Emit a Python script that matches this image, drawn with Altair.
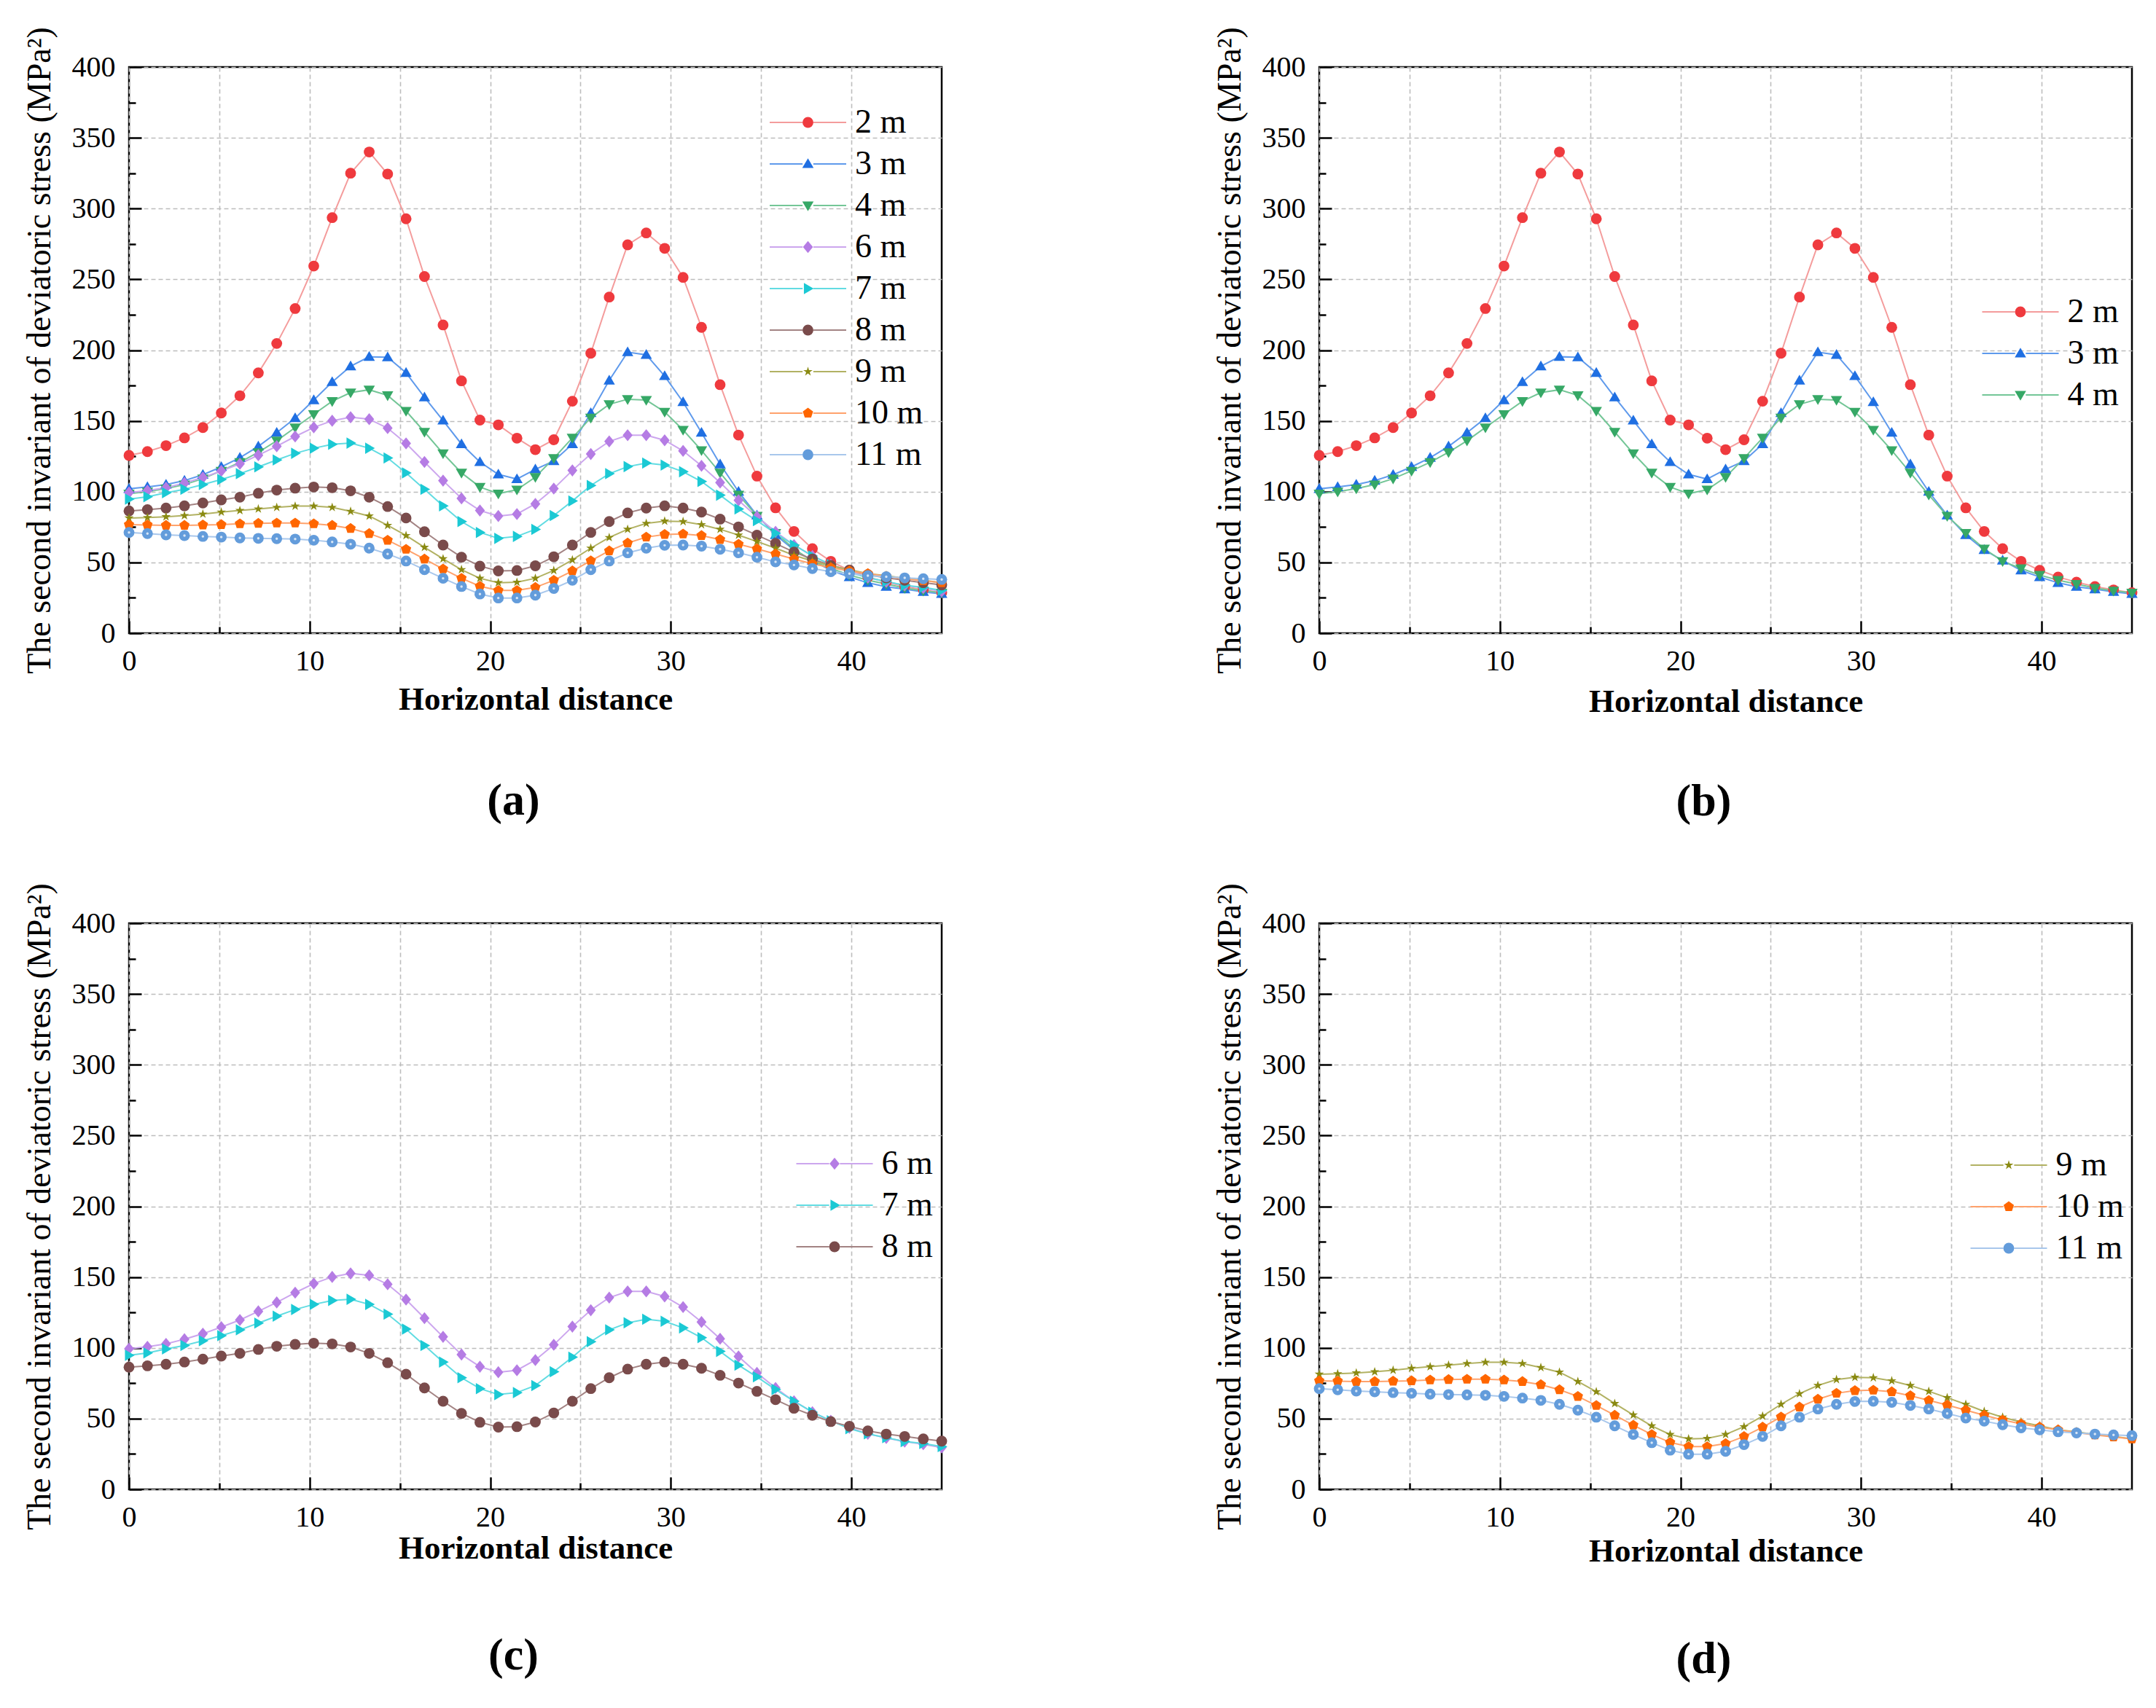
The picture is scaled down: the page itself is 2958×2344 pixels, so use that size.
import altair as alt
import pandas as pd

FONT = "Liberation Serif"

# x positions of the sampled points (45 samples over 0..45)
X = [0.0, 1.02, 2.05, 3.07, 4.09, 5.11, 6.14, 7.16, 8.18, 9.2, 10.23, 11.25, 12.27, 13.3, 14.32,
     15.34, 16.36, 17.39, 18.41, 19.43, 20.45, 21.48, 22.5, 23.52, 24.55, 25.57, 26.59, 27.61,
     28.64, 29.66, 30.68, 31.7, 32.73, 33.75, 34.77, 35.8, 36.82, 37.84, 38.86, 39.89, 40.91,
     41.93, 42.95, 43.98, 45.0]

S2 = [125.6, 128.3, 132.5, 138.0, 145.3, 155.6, 167.8, 183.9, 204.7, 229.4, 259.4, 293.6, 325.0,
      340.0, 324.4, 292.8, 252.0, 217.8, 178.3, 150.6, 147.2, 137.8, 129.7, 136.7, 163.9, 197.8,
      237.5, 274.4, 282.8, 271.9, 251.4, 216.1, 175.6, 140.0, 111.0, 88.6, 71.9, 59.7, 50.8, 44.4,
      39.7, 36.1, 33.0, 30.6, 28.6]
S3 = [102.0, 103.3, 105.0, 107.8, 112.0, 117.5, 124.0, 132.0, 141.7, 152.0, 164.7, 177.5, 188.6,
      195.3, 195.0, 184.0, 166.7, 150.3, 133.6, 121.0, 112.2, 108.9, 115.8, 121.7, 133.6, 155.6,
      178.6, 198.6, 196.7, 181.7, 163.3, 141.7, 119.4, 100.0, 83.3, 69.4, 58.9, 51.4, 44.4, 39.7,
      35.6, 32.8, 31.1, 29.2, 27.8]
S4 = [98.6, 100.0, 102.2, 105.0, 109.2, 114.7, 120.8, 127.8, 136.0, 145.3, 154.7, 163.9, 170.0,
      172.0, 168.0, 157.0, 142.2, 127.0, 113.3, 103.3, 98.6, 101.4, 110.3, 123.6, 138.0, 152.2,
      161.7, 165.3, 164.7, 156.4, 143.6, 129.2, 113.3, 97.8, 82.8, 70.8, 59.7, 50.8, 45.8, 41.1,
      37.5, 34.7, 31.9, 30.0, 28.6]
S6 = [99.4, 100.8, 102.8, 106.1, 110.0, 114.7, 119.7, 125.8, 132.1, 139.0, 145.4, 150.1, 152.6,
      151.2, 144.9, 134.1, 121.0, 107.8, 95.3, 86.7, 82.8, 84.2, 91.4, 102.2, 115.0, 126.6, 135.5,
      139.9, 139.9, 136.3, 128.8, 118.3, 106.4, 93.9, 82.3, 71.7, 62.3, 54.6, 48.5, 43.5, 39.3,
      36.3, 33.8, 31.9, 29.6]
S7 = [94.7, 96.4, 99.2, 101.7, 105.0, 108.6, 112.7, 117.5, 122.4, 127.1, 130.7, 133.5, 134.3,
      130.7, 123.8, 113.3, 101.7, 90.0, 78.9, 71.2, 67.0, 68.4, 73.4, 83.1, 93.4, 104.4, 112.7,
      117.7, 120.2, 118.8, 114.1, 107.2, 97.5, 87.8, 79.5, 70.6, 62.3, 54.6, 48.5, 42.9, 39.3,
      36.6, 33.8, 32.4, 30.2]
S8 = [86.4, 87.3, 88.4, 90.0, 92.0, 94.2, 96.1, 98.9, 101.1, 102.5, 103.3, 102.8, 100.6, 96.1,
      89.5, 81.4, 71.7, 62.3, 53.7, 47.4, 44.0, 44.3, 47.6, 54.0, 62.3, 71.2, 78.9, 85.0, 88.4,
      90.0, 88.4, 85.6, 80.6, 75.1, 69.3, 63.4, 57.3, 52.4, 47.9, 44.6, 41.3, 39.1, 37.4, 35.7, 34.1]
S9 = [81.4, 81.7, 82.3, 83.1, 84.2, 85.6, 86.7, 87.8, 88.9, 89.8, 89.8, 88.9, 86.1, 82.8, 76.2,
      69.0, 60.7, 52.6, 44.9, 38.8, 35.7, 36.0, 38.8, 44.3, 51.8, 60.1, 67.6, 73.4, 77.6, 79.2,
      78.9, 76.7, 73.4, 69.3, 64.8, 60.1, 55.1, 51.0, 47.6, 44.9, 42.1, 40.7, 38.8, 37.4, 35.7]
S10 = [76.7, 76.5, 76.2, 76.2, 76.5, 76.7, 77.3, 77.6, 77.8, 77.8, 77.3, 76.2, 74.0, 70.4, 65.7,
       59.3, 52.4, 45.4, 38.8, 33.2, 30.2, 30.2, 32.4, 37.4, 44.0, 51.2, 58.2, 63.7, 67.9, 69.8,
       70.1, 69.0, 66.2, 62.9, 59.6, 56.0, 52.4, 49.0, 46.3, 44.0, 42.1, 40.2, 38.5, 37.1, 35.7]
S11 = [71.2, 70.4, 69.5, 69.0, 68.4, 67.9, 67.3, 67.0, 66.8, 66.5, 65.7, 64.5, 62.9, 60.1, 56.0,
       51.0, 44.9, 38.8, 33.0, 27.7, 24.9, 24.9, 26.9, 31.6, 37.4, 44.9, 51.0, 56.8, 60.1, 62.1,
       62.3, 61.5, 59.3, 56.8, 53.7, 50.4, 48.2, 45.7, 43.5, 42.1, 40.7, 39.9, 39.1, 38.5, 38.0]

SERIES = ["2 m", "3 m", "4 m", "6 m", "7 m", "8 m", "9 m", "10 m", "11 m"]
VALUES = {"2 m": S2, "3 m": S3, "4 m": S4, "6 m": S6, "7 m": S7, "8 m": S8,
          "9 m": S9, "10 m": S10, "11 m": S11}
MARK_COLOR = {"2 m": "#EF3A3E", "3 m": "#1F6FE2", "4 m": "#36A866", "6 m": "#B57CE4",
              "7 m": "#1BC9D4", "8 m": "#7A4B4B", "9 m": "#8A8A12", "10 m": "#FF6600",
              "11 m": "#639CDB"}
LINE_COLOR = {"2 m": "#F49C9C", "3 m": "#5F9AEC", "4 m": "#74C697", "6 m": "#CCA6EE",
              "7 m": "#62DCE2", "8 m": "#A38383", "9 m": "#B2B263", "10 m": "#FFA26C",
              "11 m": "#A8C7EC"}
TRI_UP = "M0,-1.05L1.05,0.75L-1.05,0.75Z"
TRI_DOWN = "M0,1.05L1.05,-0.75L-1.05,-0.75Z"
TRI_RIGHT = "M1.05,0L-0.75,1.05L-0.75,-1.05Z"
DIAMOND = "M0,-1.12L0.92,0L0,1.12L-0.92,0Z"
PENTAGON = "M0,-1L0.951,-0.309L0.588,0.809L-0.588,0.809L-0.951,-0.309Z"
STAR = ("M0,-0.9L0.202,-0.278L0.856,-0.278L0.327,0.106L0.529,0.728L0,0.344L-0.529,0.728"
        "L-0.327,0.106L-0.856,-0.278L-0.202,-0.278Z")
SHAPES = {"2 m": "circle", "3 m": TRI_UP, "4 m": TRI_DOWN, "6 m": DIAMOND,
          "7 m": TRI_RIGHT, "8 m": "circle", "9 m": STAR, "10 m": PENTAGON,
          "11 m": "circle"}

X_TICKS = [0, 5, 10, 15, 20, 25, 30, 35, 40]
Y_TICKS = [0, 25, 50, 75, 100, 125, 150, 175, 200, 225, 250, 275, 300, 325, 350, 375, 400]

Y_TITLE = "The second invariant of deviatoric stress (MPa\u00b2)"
X_TITLE = "Horizontal distance"

PW, PH = 1115, 777
MSIZE = 220


def make_df(names):
    rows = []
    for n in names:
        for x, y in zip(X, VALUES[n]):
            rows.append({"x": x, "y": y, "series": n, "line": n + "_"})
    return pd.DataFrame(rows)


def x_enc(tpad):
    return alt.X(
        "x:Q",
        scale=alt.Scale(domain=[0, 45], nice=False, zero=False),
        axis=alt.Axis(
            values=X_TICKS,
            labelExpr="datum.value % 10 === 0 ? datum.label : ''",
            labelFont=FONT, labelFontSize=40, labelColor="black", labelPadding=35,
            labelFlush=False, labelOverlap=False,
            tickSize={"expr": "-17"}, tickColor="black", tickWidth=2.5,
            tickDash={"condition": {"test": "datum.value % 10 !== 0", "value": [9, 60]},
                      "value": []},
            grid=True, gridColor="#BDBDBD", gridDash=[6, 4], gridWidth=1.6,
            domain=False,
            title=X_TITLE, titleFont=FONT, titleFontSize=45, titleFontWeight="bold",
            titleColor="black", titlePadding=tpad,
        ),
    )


def y_enc():
    return alt.Y(
        "y:Q",
        scale=alt.Scale(domain=[0, 400], nice=False, zero=True),
        axis=alt.Axis(
            values=Y_TICKS,
            labelExpr="datum.value % 50 === 0 ? datum.label : ''",
            labelFont=FONT, labelFontSize=40, labelColor="black", labelPadding=36,
            labelFlush=False, labelOverlap=False,
            tickSize={"expr": "-17"}, tickColor="black", tickWidth=2.5,
            tickDash={"condition": {"test": "datum.value % 50 !== 0", "value": [9, 60]},
                      "value": []},
            grid=True, gridColor="#BDBDBD", gridDash=[6, 4], gridWidth=1.6,
            gridOpacity={"condition": {"test": "datum.value % 50 !== 0", "value": 0},
                         "value": 1},
            domain=False,
            title=Y_TITLE, titleFont=FONT, titleFontSize=46, titleFontWeight="normal",
            titleColor="black", titlePadding=20,
        ),
    )


def panel(names, label, lx, ly, tpad, toff):
    df = make_df(names)
    common = dict(orient="none", title=None, labelFont=FONT, labelFontSize=46,
                  labelColor="black", padding=0, labelLimit=0, labelOffset=41.5,
                  rowPadding=11)
    # legend for the connecting lines: symbols only (labels come from the marker legend)
    line_legend = alt.Legend(legendX=lx - 52.5, legendY=ly, labelExpr="''",
                             symbolType="M0,0L4.3,0M5.7,0L10,0", symbolSize=441,
                             symbolStrokeWidth=2, **common)
    pt_legend = alt.Legend(legendX=lx, legendY=ly, symbolSize=MSIZE,
                           symbolStrokeWidth=0, symbolOpacity=1, **common)
    lines = alt.Chart(df).mark_line(strokeWidth=2).encode(
        x=x_enc(tpad), y=y_enc(),
        stroke=alt.Stroke("line:N",
                          scale=alt.Scale(domain=[n + "_" for n in names],
                                          range=[LINE_COLOR[n] for n in names]),
                          legend=line_legend),
    )
    points = alt.Chart(df).mark_point(filled=True, opacity=1, size=MSIZE, strokeWidth=0).encode(
        x=x_enc(tpad), y=y_enc(),
        fill=alt.Fill("series:N",
                      scale=alt.Scale(domain=names, range=[MARK_COLOR[n] for n in names]),
                      legend=pt_legend),
        shape=alt.Shape("series:N",
                        scale=alt.Scale(domain=names, range=[SHAPES[n] for n in names]),
                        legend=pt_legend),
    )
    layers = [lines, points]
    if "11 m" in names:
        gloss = alt.Chart(df).transform_filter(alt.datum.series == "11 m").mark_point(
            filled=True, color="white", opacity=0.75, size=12, strokeWidth=0, shape="circle"
        ).encode(x=x_enc(tpad), y=y_enc())
        layers.append(gloss)
    return alt.layer(*layers).properties(
        width=PW, height=PH,
        title=alt.TitleParams(text=label, orient="bottom", font=FONT, fontSize=62,
                              fontWeight="bold", color="black", offset=toff,
                              anchor="middle", frame="group", dx=-30),
    )


pa = panel(SERIES, "(a)", 908.5, 53, 10, 87)
pb = panel(["2 m", "3 m", "4 m"], "(b)", 939, 313, 13, 85)
pc = panel(["6 m", "7 m", "8 m"], "(c)", 945, 307, 0, 95)
pd_ = panel(["9 m", "10 m", "11 m"], "(d)", 923, 309, 4, 96)

chart = alt.concat(pa, pb, pc, pd_, columns=2, spacing={"row": 77, "column": 360}).resolve_scale(
    stroke="independent", fill="independent", shape="independent"
).resolve_legend(
    stroke="independent", fill="independent", shape="independent"
).properties(
    padding={"top": 27, "left": 21, "right": 10, "bottom": 10},
    background="white",
).configure_view(stroke="black", strokeWidth=2.5)

chart.save("out.html", embed_options={"renderer": "svg", "actions": False})
